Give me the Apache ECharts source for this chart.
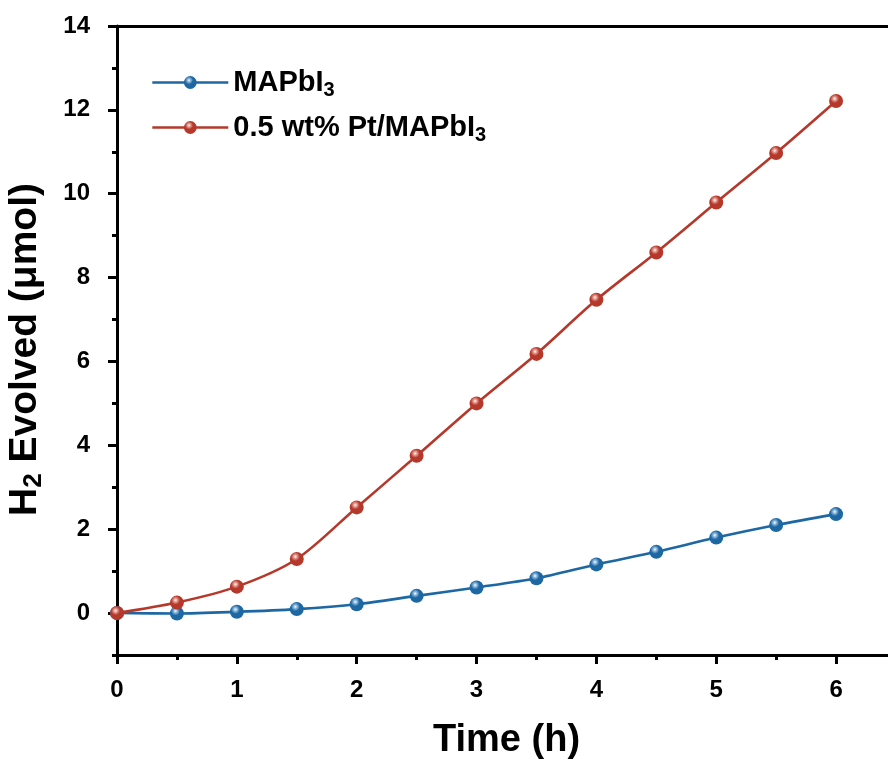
<!DOCTYPE html>
<html>
<head>
<meta charset="utf-8">
<script src="https://cdn.jsdelivr.net/npm/echarts@6/dist/echarts.min.js"></script>
<style>
html,body{margin:0;padding:0;background:#fff;}
#chart{width:888px;height:764px;}
</style>
</head>
<body>
<div id="chart"></div>
<script>
// ---- data ----
var timeH = [0, 0.5, 1, 1.5, 2, 2.5, 3, 3.5, 4, 4.5, 5, 5.5, 6];
var mapbi3 = [0, -0.01, 0.03, 0.095, 0.21, 0.41, 0.61, 0.83, 1.16, 1.46, 1.80, 2.10, 2.36];
var ptMapbi3 = [0, 0.25, 0.63, 1.29, 2.52, 3.75, 5.0, 6.18, 7.47, 8.60, 9.79, 10.97, 12.21];
var seriesNames = ['MAPbI3', '0.5 wt% Pt/MAPbI3'];
var xTicks = [0, 1, 2, 3, 4, 5, 6];
var xMinorTicks = [0.5, 1.5, 2.5, 3.5, 4.5, 5.5];
var yTicks = [0, 2, 4, 6, 8, 10, 12, 14];
var yMinorTicks = [-1, 1, 3, 5, 7, 9, 11, 13];

var FONT = '"Liberation Sans", Arial, sans-serif';
var BLUE = '#1d67a3';
var RED = '#b5382b';

function ball(c, light) {
  return {
    type: 'radial', x: 0.4, y: 0.33, r: 0.7,
    colorStops: [
      {offset: 0, color: '#ffffff'},
      {offset: 0.15, color: light},
      {offset: 0.45, color: c},
      {offset: 1, color: c}
    ]
  };
}

function pairs(xs, ys) {
  return xs.map(function (x, i) { return [x, ys[i]]; });
}

var chart = echarts.init(document.getElementById('chart'), null, {renderer: 'canvas'});

var axisLabelStyle = {fontFamily: FONT, fontWeight: 'bold', fontSize: 24, color: '#000'};
var lineStyle = {color: '#000', width: 3};

var option = {
  backgroundColor: '#fff',
  animation: false,
  grid: {left: 117, top: 26, right: -8, bottom: 109, containLabel: false, outerBoundsMode: 'none'},
  legend: {
    orient: 'vertical',
    left: 146,
    top: 63,
    itemWidth: 76,
    itemHeight: 16,
    itemGap: 13,
    data: seriesNames,
    lineStyle: {width: 2.6},
    formatter: function (name) {
      return name === seriesNames[0] ? '{b|MAPbI}{s|3}' : '{b|0.5 wt% Pt/MAPbI}{s|3}';
    },
    textStyle: {
      fontFamily: FONT, fontWeight: 'bold', color: '#000', padding: [0, 0, 0, 0],
      rich: {
        b: {fontFamily: FONT, fontWeight: 'bold', fontSize: 29, color: '#000'},
        s: {fontFamily: FONT, fontWeight: 'bold', fontSize: 20, color: '#000', padding: [15, 0, 0, 0]}
      }
    }
  },
  xAxis: [
    {
      type: 'value', position: 'bottom', min: 0, max: 6.5,
      name: 'Time (h)', nameLocation: 'middle', nameGap: 67,
      nameTextStyle: {fontFamily: FONT, fontWeight: 'bold', fontSize: 38, color: '#000'},
      axisLine: {onZero: false, lineStyle: lineStyle},
      axisTick: {show: true, customValues: xTicks, length: 9, lineStyle: lineStyle},
      axisLabel: Object.assign({customValues: xTicks, margin: 23}, axisLabelStyle),
      splitLine: {show: false}
    },
    {
      type: 'value', position: 'bottom', min: 0, max: 6.5,
      axisLine: {show: false, onZero: false},
      axisTick: {show: true, customValues: xMinorTicks, length: 5, lineStyle: lineStyle},
      axisLabel: {show: false},
      splitLine: {show: false}
    },
    {
      type: 'value', position: 'top', min: 0, max: 6.5,
      axisLine: {show: true, onZero: false, lineStyle: lineStyle},
      axisTick: {show: false},
      axisLabel: {show: false},
      splitLine: {show: false}
    }
  ],
  yAxis: [
    {
      type: 'value', position: 'left', min: -1, max: 14,
      name: '{b|H}{s|2}{b| Evolved (μmol)}', nameLocation: 'middle', nameGap: 70,
      nameTextStyle: {
        fontFamily: FONT, fontWeight: 'bold', color: '#000', padding: [0, 18, 0, 0],
        rich: {
          b: {fontFamily: FONT, fontWeight: 'bold', fontSize: 39, color: '#000'},
          s: {fontFamily: FONT, fontWeight: 'bold', fontSize: 26, color: '#000', padding: [18, 0, 0, 0]}
        }
      },
      axisLine: {onZero: false, lineStyle: lineStyle},
      axisTick: {show: true, customValues: yTicks, length: 9, lineStyle: lineStyle},
      axisLabel: Object.assign({customValues: yTicks, margin: 27}, axisLabelStyle),
      splitLine: {show: false}
    },
    {
      type: 'value', position: 'left', min: -1, max: 14,
      axisLine: {show: false, onZero: false},
      axisTick: {show: true, customValues: yMinorTicks, length: 5, lineStyle: lineStyle},
      axisLabel: {show: false},
      splitLine: {show: false}
    }
  ],
  series: [
    {
      name: seriesNames[0], type: 'line', xAxisIndex: 0, yAxisIndex: 0,
      data: pairs(timeH, mapbi3), smooth: 0.3,
      symbol: 'circle', symbolSize: 14,
      lineStyle: {color: BLUE, width: 2.6},
      itemStyle: {color: ball(BLUE, '#9cc2e2')},
      z: 3
    },
    {
      name: seriesNames[1], type: 'line', xAxisIndex: 0, yAxisIndex: 0,
      data: pairs(timeH, ptMapbi3), smooth: 0.3,
      symbol: 'circle', symbolSize: 14,
      lineStyle: {color: RED, width: 2.6},
      itemStyle: {color: ball(RED, '#eaa89f')},
      z: 4
    }
  ]
};
chart.setOption(option);
</script>
</body>
</html>
